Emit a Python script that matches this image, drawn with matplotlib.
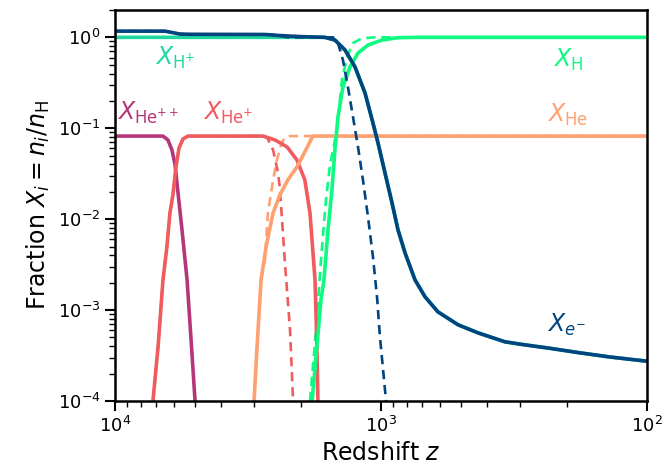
import matplotlib
matplotlib.use("Agg")
import matplotlib.pyplot as plt

# ---------------- data ----------------
# Electron fraction, full solution
z_e = [10000, 6486, 6107, 5700, 5228, 2729, 2399, 2018, 1624, 1490, 1365, 1252, 1148,
       1072, 1026, 966, 909, 863, 812, 745, 683, 611, 513, 432, 342, 300, 232, 179, 138, 100]
x_e = [1.17, 1.17, 1.13, 1.087, 1.08, 1.075, 1.047, 1.02, 1.0, 0.934, 0.725, 0.472, 0.244,
       0.1143, 0.0689, 0.0323, 0.0151, 0.00762, 0.00426, 0.00215, 0.0014, 9.57e-4, 6.89e-4,
       5.62e-4, 4.48e-4, 4.22e-4, 3.80e-4, 3.39e-4, 3.05e-4, 2.74e-4]

# Electron fraction, Saha
z_e_saha = [10000, 6486, 6107, 5700, 5228, 2851, 2570, 2399, 2240, 1514, 1451, 1390, 1331,
            1274, 1220, 1169, 1119, 1072, 1035, 1009, 958, 949]
x_e_saha = [1.17, 1.17, 1.13, 1.087, 1.08, 1.08, 1.07, 1.04, 1.0, 1.0, 0.866, 0.563, 0.284,
            0.133, 0.0623, 0.0270, 0.0106, 0.00385, 0.0014, 5.08e-4, 1.03e-4, 7e-5]

# Neutral hydrogen
z_h = [1816, 1741, 1681, 1638, 1582, 1529, 1490, 1451, 1390, 1308, 1220, 1119, 991, 863, 713, 100]
x_h = [1.0e-4, 3.95e-4, 0.0013, 0.00215, 0.0076, 0.021, 0.0578, 0.133, 0.284, 0.472,
       0.672, 0.823, 0.934, 0.992, 1.0, 1.0]
z_h_saha = [1849, 1754, 1681, 1610, 1555, 1464, 1402, 1342, 1274, 1179, 1053, 100]
x_h_saha = [1.0e-4, 6.1e-4, 0.00356, 0.0163, 0.0394, 0.0958, 0.34, 0.607, 0.866, 0.975,
            1.0, 1.0]

# Ionised hydrogen
z_hp = [10000, 1624, 1490, 1365, 1252, 1148, 1072, 1026, 966, 909, 863, 812, 745, 683,
        611, 513, 432, 342, 300, 232, 179, 138, 100]
x_hp = [1.0, 1.0, 0.934, 0.725, 0.472, 0.244, 0.1143, 0.0689, 0.0323, 0.0151, 0.00762,
        0.00426, 0.00215, 0.0014, 9.57e-4, 6.89e-4, 5.62e-4, 4.48e-4, 4.22e-4, 3.80e-4,
        3.39e-4, 3.05e-4, 2.74e-4]

# Neutral helium
z_he = [3000, 2924, 2824, 2704, 2545, 2399, 2240, 2071, 1933, 1804, 100]
x_he = [1.0e-4, 3.95e-4, 0.00215, 0.00496, 0.0117, 0.0185, 0.027, 0.0375, 0.055, 0.082, 0.082]
z_he_saha = [3000, 2924, 2824, 2729, 2661, 2545, 2460, 2377, 2296, 2198, 100]
x_he_saha = [1.0e-4, 3.95e-4, 0.00215, 0.00355, 0.0117, 0.027, 0.0449, 0.0654, 0.080, 0.082, 0.082]

# Singly ionised helium
z_hep = [7200, 6887, 6600, 6380, 6215, 6055, 5900, 5745, 5548, 5318, 2780, 2503, 2255,
         2071, 1933, 1849, 1770, 1741, 1726]
x_hep = [1.0e-4, 3.95e-4, 0.00215, 0.00496, 0.0117, 0.0185, 0.0375, 0.0607, 0.0763, 0.082,
         0.082, 0.0744, 0.0623, 0.0449, 0.027, 0.0117, 0.00215, 3.95e-4, 1.0e-4]
z_hep_saha = [7200, 6887, 6600, 6380, 6215, 6055, 5900, 5745, 5548, 5318, 2780, 2685, 2545,
              2438, 2400, 2296, 2198, 2143, 2123]
x_hep_saha = [1.0e-4, 3.95e-4, 0.00215, 0.00496, 0.0117, 0.0185, 0.0375, 0.0607, 0.0763, 0.082,
              0.082, 0.080, 0.0578, 0.0323, 0.022, 0.0033, 6.1e-4, 1.1e-4, 7e-5]

# Doubly ionised helium
z_hepp = [10000, 6600, 6325, 6107, 5944, 5848, 5598, 5358, 5176, 5000]
x_hepp = [0.082, 0.082, 0.0743, 0.0578, 0.0395, 0.025, 0.0076, 0.00215, 4.72e-4, 1.0e-4]

labels = [r"$X_{\mathrm{H}^{+}}$", r"$X_{\mathrm{He}^{++}}$", r"$X_{\mathrm{He}^{+}}$",
          r"$X_{\mathrm{H}}$", r"$X_{\mathrm{He}}$", r"$X_{e^{-}}$"]

# ---------------- style ----------------
c_e = "#00457f"
c_h = "#0dfb80"
c_hp = "#1ed8a0"
c_he = "#ffa070"
c_hep = "#f05b5f"
c_hepp = "#b5377a"

plt.rcParams["font.family"] = ["DejaVu Sans"]
plt.rcParams["mathtext.fontset"] = "dejavusans"

fig = plt.figure(figsize=(6.62, 4.70), dpi=100)
ax = fig.add_axes([0.1737, 0.1468, 0.8036, 0.832])

lw = 2.6
dlw = 1.9
dash = (0, (3.5, 2.2))

# dashed (Saha) curves
ax.plot(z_he_saha, x_he_saha, color=c_he, lw=dlw, ls=dash)
ax.plot(z_hep_saha, x_hep_saha, color=c_hep, lw=dlw, ls=dash)
ax.plot(z_h_saha, x_h_saha, color=c_h, lw=dlw, ls=dash)

# solid curves
ax.plot(z_hepp, x_hepp, color=c_hepp, lw=lw)
ax.plot(z_hep, x_hep, color=c_hep, lw=lw)
ax.plot(z_he, x_he, color=c_he, lw=lw)
ax.plot(z_hp, x_hp, color=c_hp, lw=lw)
ax.plot(z_h, x_h, color=c_h, lw=lw)
ax.plot(z_e_saha, x_e_saha, color=c_e, lw=dlw, ls=dash)
ax.plot(z_e, x_e, color=c_e, lw=lw)

ax.set_xscale("log")
ax.set_yscale("log")
ax.set_xlim(1e4, 1e2)
ax.set_ylim(1e-4, 2.0)

for s in ax.spines.values():
    s.set_linewidth(1.8)
ax.tick_params(which="major", length=7, width=1.5, labelsize=13)
ax.tick_params(which="minor", length=4, width=1.0)

ax.set_xlabel(r"Redshift $z$", fontsize=17)
ax.set_ylabel(r"Fraction $X_i = n_i / n_{\mathrm{H}}$", fontsize=17)

tx = [0.113, 0.062, 0.212, 0.852, 0.850, 0.848]
ty = [0.877, 0.737, 0.737, 0.872, 0.731, 0.194]
tc = [c_hp, c_hepp, c_hep, c_h, c_he, c_e]
for lab, x, y, c in zip(labels, tx, ty, tc):
    ax.text(x, y, lab, color=c, fontsize=17, transform=ax.transAxes,
            ha="center", va="center")

fig.savefig("out.png", dpi=100)
